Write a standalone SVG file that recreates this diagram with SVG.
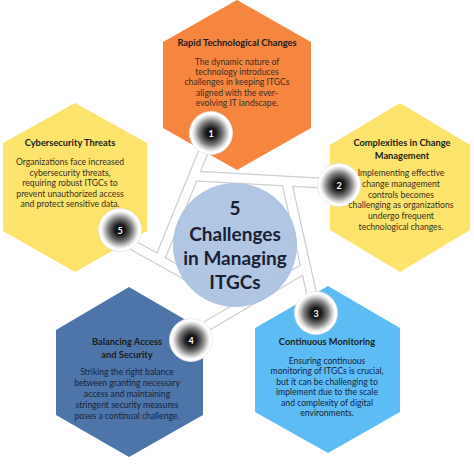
<svg xmlns="http://www.w3.org/2000/svg" width="474" height="474" viewBox="0 0 474 474">
<style>
.t{font-family:Lato,"Liberation Sans",sans-serif;font-weight:700;font-size:9.3px;fill:#1c1c1c;text-anchor:middle}
.b{font-family:Lato,"Liberation Sans",sans-serif;font-size:8.6px;fill:#3a3026;text-anchor:middle}
.bb{fill:#172440}
.c{font-family:Lato,"Liberation Sans",sans-serif;font-weight:700;font-size:19px;fill:#1b1e33;text-anchor:middle}
.n{font-family:Lato,"Liberation Sans",sans-serif;font-weight:700;font-size:9px;fill:#fff;text-anchor:middle}
.ro{stroke:#cfcfcf;stroke-width:11;fill:none}
.ri{stroke:#fff;stroke-width:8.5;fill:none}
</style>
<defs>
<radialGradient id="ball" cx="0.5" cy="0.5" r="0.5">
<stop offset="0" stop-color="#000"/>
<stop offset="0.25" stop-color="#1c1c1c"/>
<stop offset="0.55" stop-color="#7a7a7a"/>
<stop offset="0.8" stop-color="#e2e2e2"/>
<stop offset="0.9" stop-color="#fff"/>
<stop offset="1" stop-color="#fff"/>
</radialGradient>
</defs>
<rect width="474" height="474" fill="#fff"/>
<g id="hex1"><polygon points="237,0 311,42 311,128 237,170 163,128 163,42" fill="#F5853F"/></g>
<g id="hex2"><polygon points="400,103 470,145 470,230 400,272 330,230 330,145" fill="#FCE36B"/></g>
<g id="hex5"><polygon points="75,103 147,143 147,231 75,272 3,231 3,143" fill="#FCE36B"/></g>
<g id="hex4"><polygon points="129,287 203,330 203,415 129,457 56,415 56,330" fill="#4D75A9"/></g>
<g id="hex3"><polygon points="328,286 400,328 400,412 328,453 255,412 255,328" fill="#5CBCF3"/></g>
<g id="connectors">
<path class="ro" d="M211,133 L161,256 M339,184 L194,176 M316,313 L286,179 M195,333 L307,267 M120,238 L242,306"/>
<path class="ri" d="M211,133 L161,256 M339,184 L194,176 M316,313 L286,179 M195,333 L307,267 M120,238 L242,306"/>
</g>
<g id="center">
<circle cx="235" cy="245" r="62" fill="#A8C0E0" fill-opacity="0.9"/>
<text class="c" x="235" y="215">5</text>
<text class="c" x="235" y="241">Challenges</text>
<text class="c" x="235" y="265">in Managing</text>
<text class="c" x="235" y="289">ITGCs</text>
</g>
<g id="n1"><circle cx="211" cy="133" r="21.5" fill="url(#ball)" stroke="#e6e6e6" stroke-width="0.8"/><text class="n" x="211" y="136.5">1</text></g>
<g id="n2"><circle cx="339" cy="185" r="21.5" fill="url(#ball)" stroke="#e6e6e6" stroke-width="0.8"/><text class="n" x="339" y="188.5">2</text></g>
<g id="n3"><circle cx="316" cy="313" r="21.5" fill="url(#ball)" stroke="#e6e6e6" stroke-width="0.8"/><text class="n" x="316" y="316.5">3</text></g>
<g id="n4"><circle cx="191" cy="340" r="21.5" fill="url(#ball)" stroke="#e6e6e6" stroke-width="0.8"/><text class="n" x="191" y="343.5">4</text></g>
<g id="n5"><circle cx="120" cy="230" r="21.5" fill="url(#ball)" stroke="#e6e6e6" stroke-width="0.8"/><text class="n" x="120" y="233.5">5</text></g>
<g id="text1">
<text class="t" x="237" y="46">Rapid Technological Changes</text>
<text class="b" x="237" y="65">The dynamic nature of</text>
<text class="b" x="237" y="75.2">technology introduces</text>
<text class="b" x="237" y="85.4">challenges in keeping ITGCs</text>
<text class="b" x="237" y="95.6">aligned with the ever-</text>
<text class="b" x="237" y="105.8">evolving IT landscape.</text>
</g>
<g id="text2">
<text class="t" x="402" y="146">Complexities in Change</text>
<text class="t" x="402" y="159">Management</text>
<text class="b" x="401" y="176">Implementing effective</text>
<text class="b" x="401" y="186.8">change management</text>
<text class="b" x="401" y="197.6">controls becomes</text>
<text class="b" x="401" y="208.4">challenging as organizations</text>
<text class="b" x="401" y="219.2">undergo frequent</text>
<text class="b" x="401" y="230">technological changes.</text>
</g>
<g id="text5">
<text class="t" x="70" y="146">Cybersecurity Threats</text>
<text class="b" x="70" y="165">Organizations face increased</text>
<text class="b" x="70" y="175.5">cybersecurity threats,</text>
<text class="b" x="70" y="186">requiring robust ITGCs to</text>
<text class="b" x="70" y="196.5">prevent unauthorized access</text>
<text class="b" x="70" y="207">and protect sensitive data.</text>
</g>
<g id="text4">
<text class="t" x="127" y="345" fill="#152038">Balancing Access</text>
<text class="t" x="127" y="357.5">and Security</text>
<text class="b bb" x="127" y="375">Striking the right balance</text>
<text class="b bb" x="127" y="386">between granting necessary</text>
<text class="b bb" x="127" y="397">access and maintaining</text>
<text class="b bb" x="127" y="408">stringent security measures</text>
<text class="b bb" x="127" y="419">poses a continual challenge.</text>
</g>
<g id="text3">
<text class="t" x="327" y="345">Continuous Monitoring</text>
<text class="b bb" x="327" y="364">Ensuring continuous</text>
<text class="b bb" x="327" y="374.4">monitoring of ITGCs is crucial,</text>
<text class="b bb" x="327" y="384.8">but it can be challenging to</text>
<text class="b bb" x="327" y="395.2">implement due to the scale</text>
<text class="b bb" x="327" y="405.6">and complexity of digital</text>
<text class="b bb" x="327" y="416">environments.</text>
</g>
</svg>
